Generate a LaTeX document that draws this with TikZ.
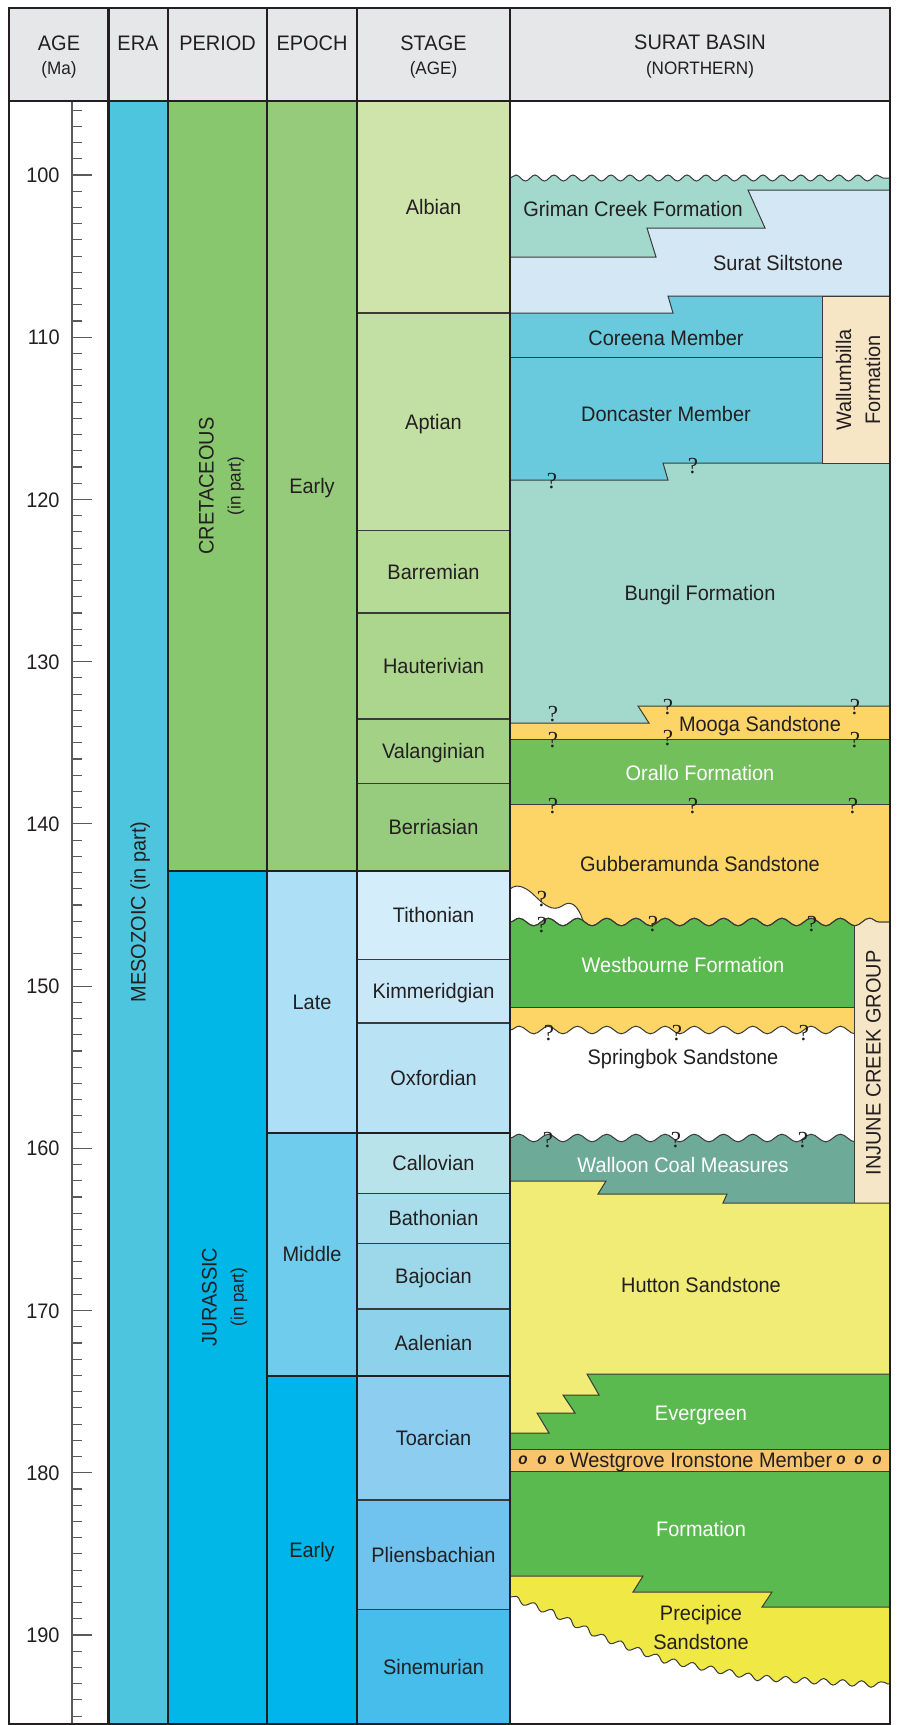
\documentclass[tikz,border=0pt]{standalone}
\usepackage{fontspec}
\setmainfont{Liberation Sans}[FakeStretch=0.95]
\newfontfamily\qmfont{Liberation Serif}
\usetikzlibrary{decorations.pathmorphing}
\definecolor{ink}{HTML}{231F20}
\definecolor{edge}{HTML}{3A3A3A}
\definecolor{tickc}{HTML}{5A5A5A}
\definecolor{hdrc}{HTML}{E6E7E8}
\definecolor{erac}{HTML}{4EC5DE}
\definecolor{kperc}{HTML}{89C76F}
\definecolor{kearc}{HTML}{97CB7C}
\definecolor{albc}{HTML}{CEE4AA}
\definecolor{aptc}{HTML}{C3E0A4}
\definecolor{barc}{HTML}{B6DB97}
\definecolor{hauc}{HTML}{ACD68E}
\definecolor{valc}{HTML}{A3D287}
\definecolor{berc}{HTML}{97CC7E}
\definecolor{jperc}{HTML}{00B7E7}
\definecolor{jlatc}{HTML}{ADDFF7}
\definecolor{jmidc}{HTML}{70CCEC}
\definecolor{jearc}{HTML}{00B5EC}
\definecolor{titc}{HTML}{D3EEFA}
\definecolor{kimc}{HTML}{C8E8F8}
\definecolor{oxfc}{HTML}{BAE2F5}
\definecolor{clvc}{HTML}{B9E3EA}
\definecolor{bthc}{HTML}{A9DDEB}
\definecolor{bajc}{HTML}{9DD8EA}
\definecolor{aalc}{HTML}{8DD2EA}
\definecolor{toac}{HTML}{8DCDF0}
\definecolor{plic}{HTML}{70C3EE}
\definecolor{sinc}{HTML}{46BDEA}
\definecolor{grimc}{HTML}{A3D8CD}
\definecolor{surc}{HTML}{D4E7F5}
\definecolor{corc}{HTML}{68CADC}
\definecolor{wallc}{HTML}{F6E6C6}
\definecolor{sandc}{HTML}{FDD466}
\definecolor{oralc}{HTML}{72BF5C}
\definecolor{westc}{HTML}{5BBA4F}
\definecolor{walc}{HTML}{6DAA98}
\definecolor{injc}{HTML}{F5E6C8}
\definecolor{hutc}{HTML}{F0EC76}
\definecolor{wgic}{HTML}{F8C46C}
\definecolor{prec}{HTML}{F0E845}
\begin{document}
\begin{tikzpicture}[x=0.5pt,y=-0.5pt,
  lbl/.style={font=\fontsize{10.5}{13}\selectfont,text=ink,inner sep=0pt,text height=7.6pt,text depth=0pt},
  sublbl/.style={lbl,font=\fontsize{9}{11}\selectfont,text height=6.5pt},
  ml/.style={font=\fontsize{10.5}{14.5}\selectfont,text=ink,inner sep=0pt,align=center},
  wlbl/.style={lbl,text=white},
  qm/.style={font=\qmfont\fontsize{11.5}{13}\selectfont,text=ink,inner sep=0pt},
  ooid/.style={font=\bfseries\itshape\fontsize{8}{9}\selectfont,text=ink,inner sep=0pt},
  unit/.style={draw=edge,line width=0.5pt},
  sline/.style={draw=edge,line width=0.6pt},
  outl/.style={draw=ink,line width=1.35pt},
  tk/.style={draw=tickc,line width=0.55pt},
  wavs/.style={decoration={snake,segment length=9.5pt,amplitude=1.5pt}},
  wavl/.style={decoration={snake,segment length=14.6pt,amplitude=1.9pt}}]
  \fill[white] (0,0) rectangle (897,1725);
  \useasboundingbox (0,0) rectangle (897,1725);
  \fill[hdrc] (9,8) rectangle (890,101);
  \node[lbl] (hage) at (59,43) {AGE};
  \node[sublbl] (hma) at (59,68) {(Ma)};
  \node[lbl] (hera) at (138,43) {ERA};
  \node[lbl] (hper) at (217.5,43) {PERIOD};
  \node[lbl] (hepo) at (312,43) {EPOCH};
  \node[lbl] (hsta) at (433.5,43) {STAGE};
  \node[sublbl] (hsage) at (433.5,68) {(AGE)};
  \node[lbl] (hsur) at (700,42) {SURAT BASIN};
  \node[sublbl] (hnor) at (700,68) {(NORTHERN)};
  \draw[tk] (72,101) -- (72,1724);
  \foreach \a in {96,...,195}{
    \pgfmathsetmacro\ty{175+16.222*(\a-100)}
    \draw[tk] (72,\ty) -- (82,\ty);
  }
  \foreach \a in {100,110,...,190}{
    \pgfmathsetmacro\ty{175+16.222*(\a-100)}
    \draw[tk] (72,\ty) -- (92,\ty);
    \node[lbl,anchor=east] (age\a) at (60,\ty) {\a};
  }
  \filldraw[sline,fill=erac] (108.5,101) rectangle (168,1724);
  \node[lbl,rotate=90] (mesozoic) at (138,912) {MESOZOIC (in part)};
  \filldraw[sline,fill=kperc] (168,101) rectangle (267,871);
  \node[lbl,rotate=90] (cret) at (206,486) {CRETACEOUS};
  \node[sublbl,rotate=90] (cretp) at (234,486) {(in part)};
  \filldraw[sline,fill=jperc] (168,871) rectangle (267,1724);
  \node[lbl,rotate=90] (jur) at (209,1297) {JURASSIC};
  \node[sublbl,rotate=90] (jurp) at (237,1297) {(in part)};
  \filldraw[sline,fill=kearc] (267,101) rectangle (357,871);
  \node[lbl] (kearly) at (312,486) {Early};
  \filldraw[sline,fill=jlatc] (267,871) rectangle (357,1132.7);
  \node[lbl] (jlate) at (312,1002) {Late};
  \filldraw[sline,fill=jmidc] (267,1132.7) rectangle (357,1376);
  \node[lbl] (jmiddle) at (312,1254) {Middle};
  \filldraw[sline,fill=jearc] (267,1376) rectangle (357,1724);
  \node[lbl] (jearly) at (312,1550) {Early};
  \filldraw[sline,fill=albc] (357,101) rectangle (510,313);
  \node[lbl] (albian) at (433.5,207) {Albian};
  \filldraw[sline,fill=aptc] (357,313) rectangle (510,530.5);
  \node[lbl] (aptian) at (433.5,422) {Aptian};
  \filldraw[sline,fill=barc] (357,530.5) rectangle (510,613);
  \node[lbl] (barremian) at (433.5,572) {Barremian};
  \filldraw[sline,fill=hauc] (357,613) rectangle (510,719);
  \node[lbl] (hauterivian) at (433.5,666) {Hauterivian};
  \filldraw[sline,fill=valc] (357,719) rectangle (510,783.5);
  \node[lbl] (valanginian) at (433.5,751) {Valanginian};
  \filldraw[sline,fill=berc] (357,783.5) rectangle (510,871);
  \node[lbl] (berriasian) at (433.5,827) {Berriasian};
  \filldraw[sline,fill=titc] (357,871) rectangle (510,959.5);
  \node[lbl] (tithonian) at (433.5,915) {Tithonian};
  \filldraw[sline,fill=kimc] (357,959.5) rectangle (510,1023);
  \node[lbl] (kimmeridgian) at (433.5,991) {Kimmeridgian};
  \filldraw[sline,fill=oxfc] (357,1023) rectangle (510,1132.7);
  \node[lbl] (oxfordian) at (433.5,1078) {Oxfordian};
  \filldraw[sline,fill=clvc] (357,1132.7) rectangle (510,1193.3);
  \node[lbl] (callovian) at (433.5,1163) {Callovian};
  \filldraw[sline,fill=bthc] (357,1193.3) rectangle (510,1243.5);
  \node[lbl] (bathonian) at (433.5,1218) {Bathonian};
  \filldraw[sline,fill=bajc] (357,1243.5) rectangle (510,1309);
  \node[lbl] (bajocian) at (433.5,1276) {Bajocian};
  \filldraw[sline,fill=aalc] (357,1309) rectangle (510,1376);
  \node[lbl] (aalenian) at (433.5,1342.5) {Aalenian};
  \filldraw[sline,fill=toac] (357,1376) rectangle (510,1500);
  \node[lbl] (toarcian) at (433.5,1438) {Toarcian};
  \filldraw[sline,fill=plic] (357,1500) rectangle (510,1609.3);
  \node[lbl] (pliensbachian) at (433.5,1555) {Pliensbachian};
  \filldraw[sline,fill=sinc] (357,1609.3) rectangle (510,1724);
  \node[lbl] (sinemurian) at (433.5,1667) {Sinemurian};
  \draw[draw=ink,line width=1pt] (168,871) -- (510,871);
  \draw[draw=ink,line width=0.8pt] (267,1132.7) -- (510,1132.7);
  \draw[draw=ink,line width=0.8pt] (267,1376) -- (510,1376);
  \filldraw[unit,fill=grimc] (510,178) decorate[wavs]{-- (890,178)} -- (890,262) -- (510,262) -- cycle;
  \filldraw[unit,fill=surc] (510,257) -- (656,257) -- (647,228) -- (765,228) -- (748,190) -- (890,190) -- (890,320) -- (510,320) -- cycle;
  \filldraw[unit,fill=corc] (510,313) -- (673,313) -- (668,296) -- (890,296) -- (890,362) -- (510,362) -- cycle;
  \filldraw[unit,fill=corc] (510,357) -- (890,357) -- (890,485) -- (510,485) -- cycle;
  \filldraw[unit,fill=grimc] (510,480) -- (668,480) -- (663,463) -- (890,463) -- (890,728) -- (510,728) -- cycle;
  \filldraw[unit,fill=wallc] (822,296) rectangle (890,463);
  \filldraw[unit,fill=sandc] (510,723) -- (649,723) -- (638,706) -- (890,706) -- (890,745) -- (510,745) -- cycle;
  \filldraw[unit,fill=oralc] (510,739) rectangle (890,810);
  \filldraw[unit,fill=sandc] (510,804) rectangle (890,935);
  \filldraw[unit,fill=white] (510,889) .. controls (518,882) and (528,889) .. (535,896) .. controls (544,905) and (553,912) .. (562,906) .. controls (570,900) and (578,903) .. (584,924) -- (584,935) -- (510,935) -- cycle;
  \filldraw[unit,fill=westc] (510,922) decorate[wavl]{-- (890,922)} -- (890,1012) -- (510,1012) -- cycle;
  \filldraw[unit,fill=sandc] (510,1007) rectangle (890,1040);
  \filldraw[unit,fill=white] (510,1030) decorate[wavl]{-- (890,1030)} -- (890,1145) -- (510,1145) -- cycle;
  \filldraw[unit,fill=walc] (510,1138) decorate[wavl]{-- (890,1138)} -- (890,1215) -- (510,1215) -- cycle;
  \begin{scope}
    \clip (510,922) decorate[wavl]{-- (890,922)} -- (890,1203) -- (510,1203) -- cycle;
    \filldraw[unit,fill=injc] (854,900) rectangle (895,1203);
  \end{scope}
  \draw[unit] (510,922) decorate[wavl]{-- (890,922)};
  \filldraw[unit,fill=hutc] (510,1181) -- (606,1181) -- (598,1194) -- (727,1194) -- (723,1203) -- (890,1203) -- (890,1440) -- (510,1440) -- cycle;
  \filldraw[unit,fill=westc] (890,1374) -- (587,1374) -- (599,1395) -- (563,1395) -- (575,1413) -- (537,1413) -- (549,1433) -- (510,1433) -- (510,1455) -- (890,1455) -- cycle;
  \filldraw[unit,fill=wgic] (510,1449) rectangle (890,1471);
  \filldraw[unit,fill=westc] (510,1471) rectangle (890,1705);
  \filldraw[unit,fill=prec] (510,1576) -- (643,1576) -- (633,1592) -- (772,1592) -- (762,1607) -- (890,1607) -- (890,1712) -- (510,1712) -- cycle;
  \filldraw[unit,fill=white] (510,1597) decorate[wavs]{-- (545,1610) -- (600,1637) -- (660,1659) -- (750,1676) -- (890,1684)} -- (890,1724) -- (510,1724) -- cycle;
  \node[lbl] (griman) at (633,209) {Griman Creek Formation};
  \node[lbl] (suratsilt) at (778,263) {Surat Siltstone};
  \node[lbl] (coreena) at (666,338) {Coreena Member};
  \node[lbl] (doncaster) at (666,414) {Doncaster Member};
  \node[ml,rotate=90] (wallumbilla) at (858,380) {Wallumbilla\\Formation};
  \node[lbl] (bungil) at (700,593) {Bungil Formation};
  \node[lbl] (mooga) at (760,724) {Mooga Sandstone};
  \node[wlbl] (orallo) at (700,773) {Orallo Formation};
  \node[lbl] (gubberamunda) at (700,864) {Gubberamunda Sandstone};
  \node[wlbl] (westbourne) at (683,965) {Westbourne Formation};
  \node[lbl] (springbok) at (683,1057) {Springbok Sandstone};
  \node[wlbl] (walloon) at (683,1165) {Walloon Coal Measures};
  \node[lbl,rotate=90] (injune) at (873,1063) {INJUNE CREEK GROUP};
  \node[lbl] (hutton) at (701,1285) {Hutton Sandstone};
  \node[wlbl] (evergreen) at (701,1413) {Evergreen};
  \node[lbl] (westgrove) at (701,1460) {Westgrove Ironstone Member};
  \node[wlbl] (formation) at (701,1529) {Formation};
  \node[ml] (precipice) at (701,1627) {Precipice\\Sandstone};
  \foreach \ox [count=\n] in {523,542,560,841,859,877}
    \node[ooid] (ooid\n) at (\ox,1460) {o};
  \foreach \qx/\qy [count=\n] in {552/481,693/466,553/714,553/740,668/707,668/738,855/707,855/740,553/806,693/806,853/806,542/899,542/925,653/924,812/924,549/1033,677/1033,804/1033,548/1140,676/1140,803/1140}
    \node[qm] (q\n) at (\qx,\qy) {?};
  \draw[outl] (9,8) rectangle (890,1724);
  \draw[outl] (9,101) -- (890,101);
  \foreach \cx in {108.5,168,267,357,510}
    \draw[outl] (\cx,8) -- (\cx,1724);
\end{tikzpicture}
\end{document}
